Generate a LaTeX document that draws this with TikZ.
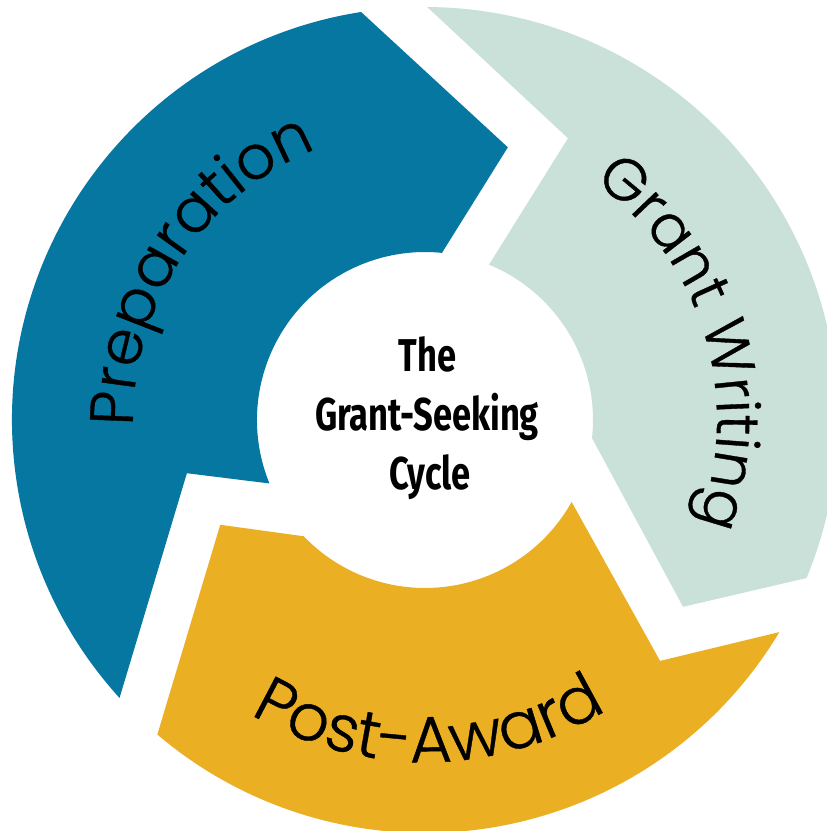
\documentclass[tikz,border=0pt]{standalone}
\usepackage{fontspec}
\usetikzlibrary{decorations.text}
\newfontfamily\labelfont[FakeBold=0.6]{Poppins Light}
\newfontfamily\condfont[FakeStretch=0.75]{Fira Sans}
\definecolor{prepblue}{HTML}{0577A1}
\definecolor{writeteal}{HTML}{CAE1DA}
\definecolor{awardgold}{HTML}{EBAF24}
\tikzset{
  centertext/.style={font=\condfont\bfseries\fontsize{46}{46}\selectfont, anchor=base, inner sep=0pt},
}
\begin{document}
\begin{tikzpicture}[x=1pt,y=1pt]
\useasboundingbox (-425,-411) rectangle (402,420);
\def\Ro{413}
\def\Ri{168}
% Preparation
\fill[prepblue] (98.9:\Ro) arc[start angle=98.9,end angle=222.3,radius=\Ro]
  -- (192.6:244) -- (202.2:\Ri) arc[start angle=202.2,end angle=84.2,radius=\Ri]
  -- (73.1:285) -- cycle;
% Grant Writing
\fill[writeteal] (89.7:\Ro) arc[start angle=89.7,end angle=-22.5,radius=\Ro]
  -- (-35.9:318.6) -- (-6.2:\Ri) arc[start angle=-6.2,end angle=67.6,radius=\Ri]
  -- (63.1:316) -- cycle;
% Post-Award
\fill[awardgold] (229.6:\Ro) arc[start angle=229.6,end angle=329.1,radius=\Ro]
  -- (314.3:336.6) -- (330.8:\Ri) arc[start angle=330.8,end angle=223.8,radius=\Ri]
  -- (207.1:230) -- cycle;
% curved labels
\path[decorate, decoration={text along path, text align=center,
  text={|\labelfont\fontsize{61}{61}\selectfont|Preparation}}]
  (216.5:292) arc[start angle=216.5,end angle=76.5,radius=292];
\path[decorate, decoration={text along path, text align=center,
  text={|\labelfont\fontsize{59}{59}\selectfont|Grant Writing}}]
  (87:292) arc[start angle=87,end angle=-53,radius=292];
\path[decorate, decoration={text along path, text align=center,
  text={|\labelfont\fontsize{65}{65}\selectfont|Post-Award}}]
  (200.7:342) arc[start angle=200.7,end angle=340.7,radius=342];
% center title
\node[centertext] (t1) at (2.5,49) {The};
\node[centertext] (t2) at (2,-10) {Grant-Seeking};
\node[centertext] (t3) at (5,-69) {Cycle};
\end{tikzpicture}
\end{document}
